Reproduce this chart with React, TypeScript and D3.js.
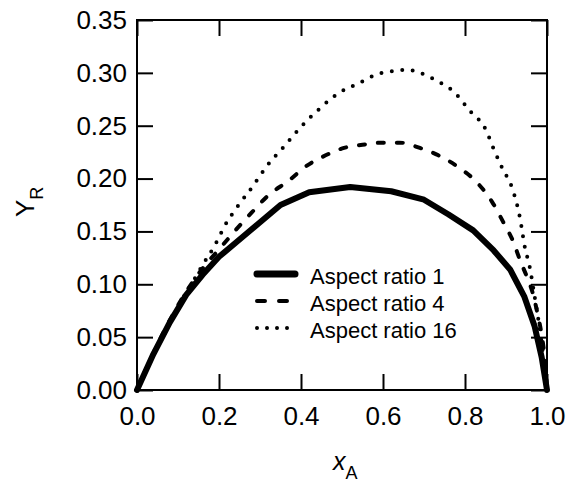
import React, { useEffect, useRef } from "react";
import * as d3 from "d3";

// Aspect ratio 1 (solid)
const xAR1 = [0, 0.04, 0.08, 0.12, 0.16, 0.2, 0.24, 0.35, 0.42, 0.52, 0.62, 0.7, 0.76, 0.82, 0.87, 0.91, 0.945, 0.97, 0.987, 1.0];
const yAR1 = [0, 0.034, 0.064, 0.09, 0.109, 0.126, 0.139, 0.175, 0.187, 0.192, 0.188, 0.18, 0.166, 0.151, 0.132, 0.114, 0.088, 0.06, 0.031, 0];

// Aspect ratio 4 (dashed)
const xAR4 = [0, 0.04, 0.08, 0.12, 0.16, 0.2, 0.24, 0.28, 0.32, 0.37, 0.41, 0.46, 0.505, 0.55, 0.6, 0.64, 0.69, 0.735, 0.783, 0.83, 0.866, 0.893, 0.918, 0.934, 0.95, 0.965, 0.977, 0.987, 0.995, 1.0];
const yAR4 = [0, 0.035, 0.066, 0.093, 0.115, 0.133, 0.151, 0.168, 0.184, 0.198, 0.211, 0.222, 0.229, 0.232, 0.234, 0.234, 0.229, 0.222, 0.211, 0.196, 0.178, 0.159, 0.14, 0.123, 0.108, 0.092, 0.072, 0.052, 0.028, 0];

// Aspect ratio 16 (dotted)
const xAR16 = [0, 0.04, 0.08, 0.105, 0.134, 0.163, 0.19, 0.215, 0.248, 0.283, 0.317, 0.358, 0.4, 0.445, 0.492, 0.54, 0.587, 0.635, 0.658, 0.683, 0.729, 0.773, 0.812, 0.851, 0.871, 0.892, 0.915, 0.934, 0.946, 0.958, 0.97, 0.978, 0.99, 1.0];
const yAR16 = [0, 0.033, 0.063, 0.082, 0.101, 0.12, 0.137, 0.156, 0.175, 0.193, 0.212, 0.23, 0.249, 0.266, 0.281, 0.29, 0.299, 0.302, 0.303, 0.301, 0.293, 0.282, 0.264, 0.246, 0.227, 0.209, 0.191, 0.163, 0.135, 0.116, 0.088, 0.069, 0.035, 0];

const xTicks = [0, 0.2, 0.4, 0.6, 0.8, 1.0];
const yTicks = [0, 0.05, 0.1, 0.15, 0.2, 0.25, 0.3, 0.35];
const seriesNames = ["Aspect ratio 1", "Aspect ratio 4", "Aspect ratio 16"];

const FONT = "'Liberation Sans', Arial, sans-serif";

const App = () => {
  const ref = useRef<SVGSVGElement>(null);

  useEffect(() => {
    const width = 568;
    const height = 484;
    const margin = { top: 20, right: 21, bottom: 94, left: 137 };

    const svg = d3.select(ref.current);
    svg.selectAll("*").remove();

    const x = d3.scaleLinear().domain([0, 1]).range([margin.left, width - margin.right]);
    const y = d3.scaleLinear().domain([0, 0.35]).range([height - margin.bottom, margin.top]);

    const styles = [
      { width: 6, dash: null, cap: "round" },
      { width: 4, dash: "6 13", cap: "round" },
      { width: 4, dash: "0 10.5", cap: "round" },
    ];
    const series = [
      { xs: xAR1, ys: yAR1, curve: d3.curveLinear },
      { xs: xAR4, ys: yAR4, curve: d3.curveMonotoneX },
      { xs: xAR16, ys: yAR16, curve: d3.curveMonotoneX },
    ];

    const line = d3.line<[number, number]>()
      .x(d => x(d[0]))
      .y(d => y(d[1]));

    series.forEach((s, i) => {
      const pts: [number, number][] = s.xs.map((v, j) => [v, s.ys[j]]);
      svg.append("path")
        .datum(pts)
        .attr("fill", "none")
        .attr("stroke", "#000")
        .attr("stroke-width", styles[i].width)
        .attr("stroke-linejoin", "round")
        .attr("stroke-linecap", styles[i].cap)
        .attr("stroke-dasharray", styles[i].dash)
        .attr("d", line.curve(s.curve)(pts));
    });

    const tick = 16;
    const styleAxis = (g: any, labels: boolean) => {
      g.select(".domain").remove();
      g.selectAll(".tick line").attr("stroke", "#000").attr("stroke-width", 2);
      g.selectAll(".tick text")
        .attr("fill", "#000")
        .style("font-family", FONT)
        .style("font-size", "26px");
      if (!labels) g.selectAll(".tick text").remove();
    };

    svg.append("g")
      .attr("transform", `translate(0,${y(0)})`)
      .call(d3.axisBottom(x).tickValues(xTicks).tickFormat(d3.format(".1f")).tickSize(-tick).tickPadding(17))
      .call(g => styleAxis(g, true));

    svg.append("g")
      .attr("transform", `translate(0,${y(0.35)})`)
      .call(d3.axisTop(x).tickValues(xTicks).tickSize(-tick))
      .call(g => styleAxis(g, false));

    svg.append("g")
      .attr("transform", `translate(${x(0)},0)`)
      .call(d3.axisLeft(y).tickValues(yTicks).tickFormat(d3.format(".2f")).tickSize(-tick).tickPadding(10))
      .call(g => styleAxis(g, true));

    svg.append("g")
      .attr("transform", `translate(${x(1)},0)`)
      .call(d3.axisRight(y).tickValues(yTicks).tickSize(-tick))
      .call(g => styleAxis(g, false));

    // frame
    svg.append("rect")
      .attr("x", x(0))
      .attr("y", y(0.35))
      .attr("width", x(1) - x(0))
      .attr("height", y(0) - y(0.35))
      .attr("fill", "none")
      .attr("stroke", "#000")
      .attr("stroke-width", 2);

    // legend
    const legend = svg.append("g").style("font-family", FONT).style("font-size", "22px");
    seriesNames.forEach((name, i) => {
      const ly = 274 + i * 27;
      legend.append("line")
        .attr("x1", 257).attr("x2", 295)
        .attr("y1", ly).attr("y2", ly)
        .attr("stroke", "#000")
        .attr("stroke-width", i === 0 ? 7 : styles[i].width)
        .attr("stroke-linecap", "round")
        .attr("stroke-dasharray", i === 0 ? null : i === 1 ? "8 14" : "0 10");
      legend.append("text")
        .attr("x", 310)
        .attr("y", ly + 10)
        .attr("fill", "#000")
        .text(name);
    });

    // axis titles
    const xt = svg.append("text")
      .attr("x", 333)
      .attr("y", 470)
      .attr("fill", "#000")
      .style("font-family", FONT)
      .style("font-size", "25px");
    xt.append("tspan").style("font-style", "italic").text("x");
    xt.append("tspan").attr("dy", 9).style("font-size", "18px").text("A");

    const yt = svg.append("text")
      .attr("transform", "translate(34,217) rotate(-90)")
      .attr("fill", "#000")
      .style("font-family", FONT)
      .style("font-size", "26px");
    yt.append("tspan").text("Y");
    yt.append("tspan").attr("dy", 9).style("font-size", "18px").text("R");
  }, []);

  return (
    <svg ref={ref} width={568} height={484} style={{ position: "absolute", left: 0, top: 0 }}></svg>
  );
};

export default App;
